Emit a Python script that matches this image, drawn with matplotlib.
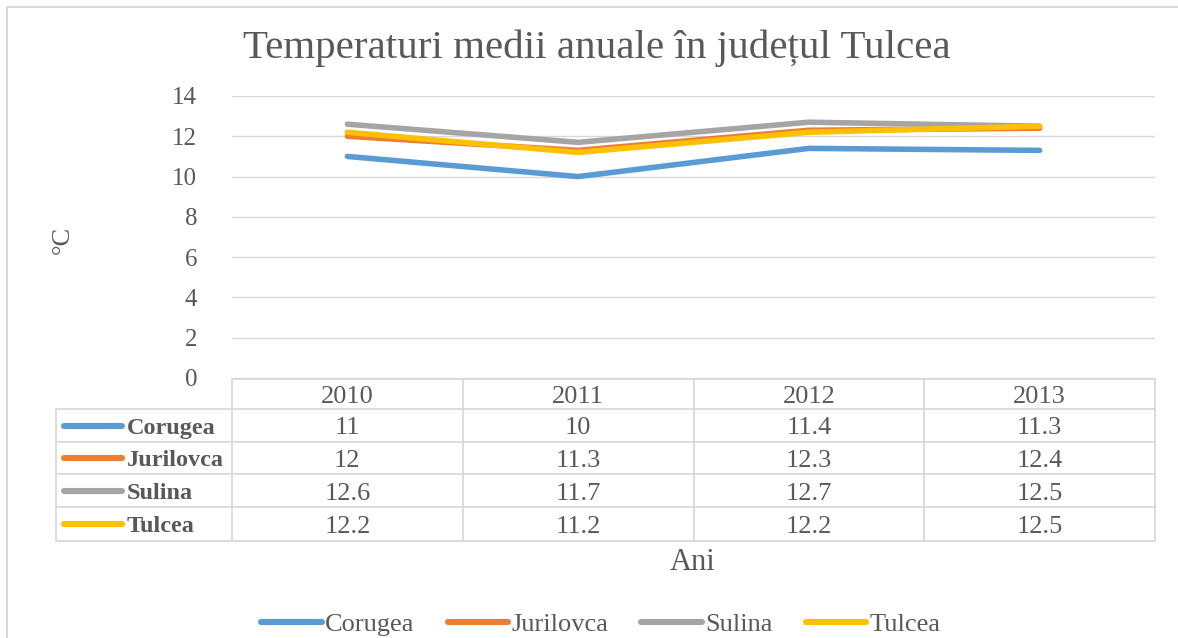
import matplotlib
matplotlib.use("Agg")
import matplotlib.pyplot as plt
from matplotlib.lines import Line2D
from matplotlib.patches import Rectangle
from matplotlib.transforms import blended_transform_factory

# ---- data ----
years = ["2010", "2011", "2012", "2013"]
stations = ["Corugea", "Jurilovca", "Sulina", "Tulcea"]
corugea = [11, 10, 11.4, 11.3]
jurilovca = [12, 11.3, 12.3, 12.4]
sulina = [12.6, 11.7, 12.7, 12.5]
tulcea = [12.2, 11.2, 12.2, 12.5]
series = [corugea, jurilovca, sulina, tulcea]
colors = ["#5B9BD5", "#ED7D31", "#A5A5A5", "#FFC000"]
yticks = [0, 2, 4, 6, 8, 10, 12, 14]

title = "Temperaturi medii anuale în județul Tulcea"
ylabel = "°C"
xlabel = "Ani"

FONT = "Liberation Serif"
TXT = "#595959"
GRID = "#D9D9D9"

W, H = 1178, 638
fig = plt.figure(figsize=(W / 100, H / 100), dpi=100)


def fx(px):
    return px / W


def fy(py):
    return 1 - py / H


# outer chart border
fig.patches.append(Rectangle((fx(7), fy(700)), fx(1300), fy(7) - fy(700),
                             transform=fig.transFigure, fill=False,
                             edgecolor=GRID, lw=1.5))

# ---- plot area ----
ax = fig.add_axes([fx(232), fy(378), fx(1155) - fx(232), fy(96) - fy(378)])
x = list(range(len(years)))
for name, vals, c in zip(stations, series, colors):
    ax.plot(x, vals, color=c, lw=4.0, solid_capstyle="round",
            solid_joinstyle="round", label=name, zorder=3)

ax.set_xlim(-0.5, len(years) - 0.5)
ax.set_ylim(0, 14)
ax.set_yticks(yticks)
ax.set_yticklabels([str(t) for t in yticks], fontfamily=FONT,
                   fontsize=18, color=TXT)
ax.tick_params(axis="y", length=0, pad=25)
ax.set_xticks([])
ax.grid(axis="y", color=GRID, lw=1)
ax.set_axisbelow(True)
for s in ax.spines.values():
    s.set_visible(False)

# ---- data table under the axis ----
tr = blended_transform_factory(ax.transData, fig.transFigure)
row_edges = [379, 409, 442, 474, 507, 541]
col_edges = [i - 0.5 for i in range(len(years) + 1)]
key_left = 56
CELL_FS = 19
TXT_SHIFT = 3  # px, visual centring of digits inside cells

# horizontal lines
x_left_data = ax.transData.inverted().transform(
    fig.transFigure.transform((fx(key_left), 0)))[0]
for i, ry in enumerate(row_edges):
    x0 = col_edges[0] if i == 0 else x_left_data
    fig.add_artist(Line2D([x0, col_edges[-1]], [fy(ry), fy(ry)],
                          transform=tr, color=GRID, lw=1.3))
# vertical lines
for cx in col_edges:
    fig.add_artist(Line2D([cx, cx], [fy(row_edges[0]), fy(row_edges[-1])],
                          transform=tr, color=GRID, lw=1.3))
fig.add_artist(Line2D([fx(key_left)] * 2, [fy(row_edges[1]), fy(row_edges[-1])],
                      transform=fig.transFigure, color=GRID, lw=1.3))

# header
hy = fy((row_edges[0] + row_edges[1]) / 2 + TXT_SHIFT)
for xi, yr in zip(x, years):
    fig.text(xi, hy, yr, transform=tr, ha="center", va="center",
             fontfamily=FONT, fontsize=CELL_FS, color=TXT)

# rows
for r, (name, vals, c) in enumerate(zip(stations, series, colors)):
    mid = (row_edges[r + 1] + row_edges[r + 2]) / 2
    cy = fy(mid)
    ty = fy(mid + TXT_SHIFT)
    fig.add_artist(Line2D([fx(64), fx(122)], [cy, cy], transform=fig.transFigure,
                          color=c, lw=4.4, solid_capstyle="round"))
    fig.text(fx(127), ty, name, ha="left", va="center", fontfamily=FONT,
             fontsize=17.5, color=TXT, fontweight="bold")
    for xi, v in zip(x, vals):
        fig.text(xi, ty, f"{v:g}", transform=tr, ha="center", va="center",
                 fontfamily=FONT, fontsize=CELL_FS, color=TXT)

# ---- titles ----
fig.text(fx(597), fy(48), title, ha="center", va="center", fontfamily=FONT,
         fontsize=29.5, color=TXT)
fig.text(fx(63), fy(240), ylabel, ha="center", va="center", rotation=90,
         fontfamily=FONT, fontsize=19, color=TXT)
fig.text(fx(693), fy(563), xlabel, ha="center", va="center", fontfamily=FONT,
         fontsize=22, color=TXT)

# ---- legend ----
handles = [Line2D([], [], color=c, lw=4.4, solid_capstyle="round") for c in colors]
fig.legend(handles, stations, loc="center", bbox_to_anchor=(fx(601), fy(624)),
           ncol=4, frameon=False, handlelength=2.3, handletextpad=0.12,
           columnspacing=1.25, prop={"family": FONT, "size": 19},
           labelcolor=TXT)

fig.savefig("out.png", dpi=100, facecolor="white")
